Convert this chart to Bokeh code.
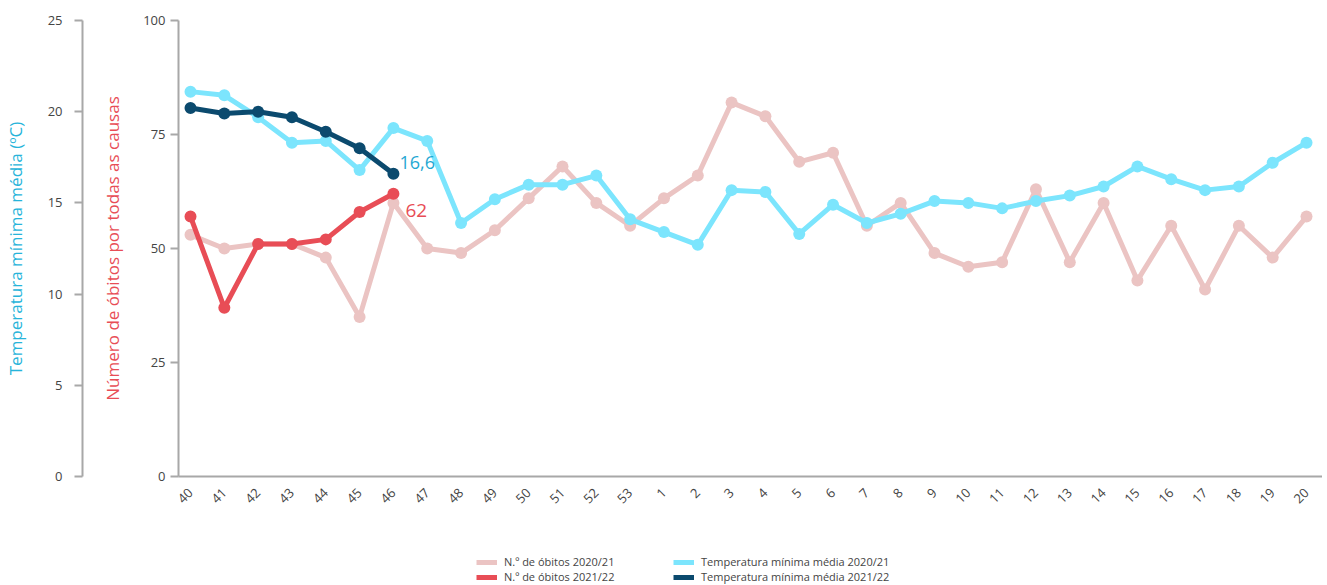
from bokeh.plotting import figure
from bokeh.layouts import column
from bokeh.models import Range1d, LinearAxis, FixedTicker, Legend, LegendItem
from bokeh.core.properties import value
from bokeh.embed import file_html
from bokeh.resources import INLINE
from math import pi

# ---------------- data ----------------
weeks = ["40", "41", "42", "43", "44", "45", "46", "47", "48", "49", "50", "51", "52", "53",
         "1", "2", "3", "4", "5", "6", "7", "8", "9", "10", "11", "12", "13", "14", "15",
         "16", "17", "18", "19", "20"]

deaths_2021 = [53, 50, 51, 51, 48, 35, 60, 50, 49, 54, 61, 68, 60, 55,
               61, 66, 82, 79, 69, 71, 55, 60, 49, 46, 47, 63, 47, 60, 43, 55, 41, 55, 48, 57]
deaths_2122 = [57, 37, 51, 51, 52, 58, 62]

temp_2021 = [21.1, 20.9, 19.7, 18.3, 18.4, 16.8, 19.1, 18.4, 13.9, 15.2, 16.0, 16.0, 16.5, 14.1,
             13.4, 12.7, 15.7, 15.6, 13.3, 14.9, 13.9, 14.4, 15.1, 15.0, 14.7, 15.1, 15.4, 15.9,
             17.0, 16.3, 15.7, 15.9, 17.2, 18.3]
temp_2122 = [20.2, 19.9, 20.0, 19.7, 18.9, 18.0, 16.6]

deaths_ticks = [0, 25, 50, 75, 100]
temp_ticks = [0, 5, 10, 15, 20, 25]

legend_labels = ["N.º de óbitos 2020/21", "N.º de óbitos 2021/22",
                 "Temperatura mínima média 2020/21", "Temperatura mínima média 2021/22"]

# ---------------- styles ----------------
FONT = "Open Sans"
C_PINK = "#ebc4c3"
C_RED = "#e84d56"
C_CYAN = "#7ce5fd"
C_NAVY = "#0b4a6e"
C_TEMP_LABEL = "#27b4da"
C_TEXT = "#444444"
C_AXIS = "#a8a8a8"
W = 1322

x_all = list(range(len(weeks)))
x_cur = x_all[:len(deaths_2122)]

p = figure(width=W, height=530, output_backend="svg", toolbar_location=None,
           x_range=Range1d(-0.355, 33.473), y_range=Range1d(0, 100),
           min_border_top=20, min_border_bottom=54, min_border_left=0, min_border_right=0,
           title=None)
p.extra_y_ranges = {"temp": Range1d(0, 25)}
p.grid.visible = False
p.outline_line_color = None
p.background_fill_color = "white"
p.border_fill_color = "white"


def style_axis(ax):
    ax.axis_line_color = C_AXIS
    ax.axis_line_width = 2
    ax.major_tick_line_color = C_AXIS
    ax.major_tick_line_width = 2
    ax.minor_tick_line_color = None
    ax.major_label_text_font = FONT
    ax.major_label_text_font_size = "13px"
    ax.major_label_text_color = C_TEXT
    ax.axis_label_text_font = FONT
    ax.axis_label_text_font_style = "normal"
    ax.axis_label_text_font_size = "17px"


# x axis
xa = p.xaxis[0]
style_axis(xa)
xa.ticker = FixedTicker(ticks=x_all)
xa.major_label_overrides = {i: w for i, w in zip(x_all, weeks)}
xa.major_label_orientation = pi / 4
xa.major_tick_out = 0
xa.major_tick_in = 0
xa.major_label_standoff = 14

# inner y axis (deaths)
ya = p.yaxis[0]
style_axis(ya)
ya.ticker = FixedTicker(ticks=deaths_ticks)
ya.major_tick_out = 8
ya.major_tick_in = 0
ya.major_label_standoff = 5
ya.axis_label = "Número de óbitos por todas as causas"
ya.axis_label_text_color = C_RED
ya.axis_label_standoff = 16

# spacer between the two left axes (an invisible, label-only axis)
spacer = LinearAxis(ticker=FixedTicker(ticks=[]), axis_line_color=None,
                    major_tick_line_color=None, minor_tick_line_color=None,
                    major_tick_out=0, major_tick_in=0, major_label_standoff=0,
                    axis_label=".", axis_label_text_alpha=0,
                    axis_label_text_font_size="10px", axis_label_standoff=5)
p.add_layout(spacer, "left")

# outer y axis (temperature)
ta = LinearAxis(y_range_name="temp", ticker=FixedTicker(ticks=temp_ticks))
style_axis(ta)
ta.major_tick_out = 8
ta.major_tick_in = 0
ta.major_label_standoff = 12
ta.axis_label = "Temperatura mínima média (ºC)"
ta.axis_label_text_color = C_TEMP_LABEL
ta.axis_label_standoff = 18
p.add_layout(ta, "left")

# ---------------- series ----------------
LW = 5
SZ = 12
p.line(x_all, deaths_2021, line_color=C_PINK, line_width=LW, line_join="round")
p.scatter(x_all, deaths_2021, size=SZ, fill_color=C_PINK, line_color=None)

p.line(x_all, temp_2021, y_range_name="temp", line_color=C_CYAN, line_width=LW, line_join="round")
p.scatter(x_all, temp_2021, y_range_name="temp", size=SZ, fill_color=C_CYAN, line_color=None)

p.line(x_cur, deaths_2122, line_color=C_RED, line_width=LW, line_join="round")
p.scatter(x_cur, deaths_2122, size=SZ, fill_color=C_RED, line_color=None)

p.line(x_cur, temp_2122, y_range_name="temp", line_color=C_NAVY, line_width=LW, line_join="round")
p.scatter(x_cur, temp_2122, y_range_name="temp", size=SZ, fill_color=C_NAVY, line_color=None)

# end labels
p.text(x=[x_cur[-1]], y=[temp_2122[-1]], y_range_name="temp",
       text=[f"{temp_2122[-1]:.1f}".replace(".", ",")],
       text_font=value(FONT), text_font_size=value("18px"), text_color="#1fa8d3",
       text_align="left", text_baseline="middle", x_offset=6, y_offset=-11)
p.text(x=[x_cur[-1]], y=[deaths_2122[-1]],
       text=[str(deaths_2122[-1])],
       text_font=value(FONT), text_font_size=value("19px"), text_color=C_RED,
       text_align="left", text_baseline="middle", x_offset=12, y_offset=17)

# ---------------- legend (separate strip below, frames aligned) ----------------
lf = figure(width=W, height=55, output_backend="svg", toolbar_location=None,
            x_range=Range1d(0, 1), y_range=Range1d(0, 1), title=None,
            min_border=0)
lf.axis.visible = False
lf.grid.visible = False
lf.outline_line_color = None
lf.background_fill_color = "white"
lf.border_fill_color = "white"

# legend proxies carry the same series (they fall outside this strip's view)
series = [(deaths_2021, C_PINK), (deaths_2122, C_RED), (temp_2021, C_CYAN), (temp_2122, C_NAVY)]
proxies = [lf.line(x_all[:len(vals)], vals, line_color=c, line_width=LW) for vals, c in series]


def make_legend(idx, loc):
    return Legend(items=[LegendItem(label=legend_labels[i], renderers=[proxies[i]]) for i in idx],
                  location=loc, orientation="vertical",
                  label_text_font=FONT, label_text_font_size="11px", label_text_color=C_TEXT,
                  glyph_width=21, glyph_height=14, label_height=14, label_standoff=7,
                  spacing=0, padding=0, margin=0, border_line_color=None,
                  background_fill_alpha=0)


lf.add_layout(make_legend([0, 1], (298, 1)))
lf.add_layout(make_legend([2, 3], (495, 1)))

layout = column(p, lf, spacing=0)
open("out.html", "w").write(file_html(layout, INLINE))
